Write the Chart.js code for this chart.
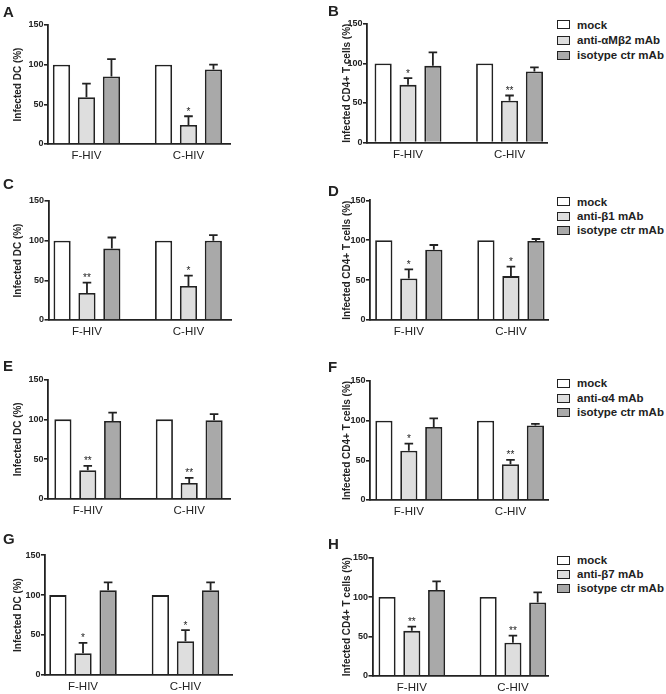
<!DOCTYPE html>
<html lang="en">
<head>
<meta charset="UTF-8">
<title>Integrin blocking - infected DC and CD4+ T cells</title>
<script src="https://cdn.jsdelivr.net/npm/chart.js"></script>
<style>
    body {
        margin: 0;
        background: #ffffff;
        font-family: 'Liberation Sans', Arial, sans-serif;
        color: #222;
    }
    #figure {
        position: relative;
        width: 666px;
        height: 694px;
        overflow: hidden;
    }
    canvas { position: absolute; }
    .panel-letter {
        position: absolute;
        font-weight: bold;
        font-size: 15px;
        line-height: 15px;
    }
    .legend-row {
        position: absolute;
        left: 557px;
        height: 14px;
        display: flex;
        align-items: center;
        font-weight: bold;
        font-size: 11.5px;
        white-space: nowrap;
    }
    .legend-box {
        width: 11px;
        height: 7px;
        border: 1.6px solid #222;
        margin-right: 7px;
    }
</style>
</head>
<body>
<div id="figure"></div>

<script>
    // categories and axis ticks shared by all panels
    const groups = ['F-HIV', 'C-HIV'];
    const yTicks = [0, 50, 100, 150];
    const mockValues = [100, 100];
    const mockErr = [0, 0];

    const dcTitle = 'Infected DC (%)';
    const cd4Title = 'Infected CD4+ T cells (%)';

    // A / B : anti-aMb2
    const antiA = [59, 24], antiErrA = [17, 11], isoA = [85, 94], isoErrA = [22, 6], starsA = ['', '*'];
    const antiB = [73, 53], antiErrB = [8.5, 6.5], isoB = [97, 90], isoErrB = [17, 5], starsB = ['*', '**'];
    // C / D : anti-b1
    const antiC = [34, 43], antiErrC = [13, 13], isoC = [90, 100], isoErrC = [14, 7], starsC = ['**', '*'];
    const antiD = [52, 55], antiErrD = [11.5, 12], isoD = [88, 99], isoErrD = [6, 2.5], starsD = ['*', '*'];
    // E / F : anti-a4
    const antiE = [36, 20], antiErrE = [5.5, 6.5], isoE = [98, 99], isoErrE = [10.5, 7.5], starsE = ['**', '**'];
    const antiF = [62, 45], antiErrF = [9, 5.5], isoF = [92, 94], isoErrF = [11, 2], starsF = ['*', '**'];
    // G / H : anti-b7
    const antiG = [27, 42], antiErrG = [13, 14], isoG = [106, 106], isoErrG = [10, 10], starsG = ['*', '*'];
    const antiH = [57, 42], antiErrH = [5.5, 9], isoH = [109, 93], isoErrH = [11, 13], starsH = ['**', '**'];

    const legendB = ['mock', 'anti-\u03b1M\u03b22 mAb', 'isotype ctr mAb'];
    const legendD = ['mock', 'anti-\u03b21 mAb', 'isotype ctr mAb'];
    const legendF = ['mock', 'anti-\u03b14 mAb', 'isotype ctr mAb'];
    const legendH = ['mock', 'anti-\u03b27 mAb', 'isotype ctr mAb'];

    const barColors = ['#ffffff', '#dedede', '#a9a9a9'];

    // plot-area placement of each panel on the page
    const geometry = {
        A: { left: 48,    right: 230, top: 25,    bottom: 144,   xMin: 0.623, xMax: 2.407, titleX: 18.5,  letter: [3, 4] },
        B: { left: 367,   right: 547, top: 24,    bottom: 142.5, xMin: 0.596, xMax: 2.369, titleX: 347.3, letter: [328, 3], legendY: [24.5, 40, 55] },
        C: { left: 48.5,  right: 231, top: 201,   bottom: 320,   xMin: 0.621, xMax: 2.419, titleX: 18.5,  letter: [3, 176] },
        D: { left: 370,   right: 548, top: 200.3, bottom: 320,   xMin: 0.620, xMax: 2.363, titleX: 347.3, letter: [328, 183], legendY: [201.5, 216, 230] },
        E: { left: 48,    right: 230, top: 379.5, bottom: 499,   xMin: 0.608, xMax: 2.402, titleX: 18.5,  letter: [3, 358] },
        F: { left: 370,   right: 548, top: 381,   bottom: 500,   xMin: 0.618, xMax: 2.369, titleX: 347.3, letter: [328, 359], legendY: [383.3, 398.3, 412.3] },
        G: { left: 45,    right: 232, top: 555.3, bottom: 674.7, xMin: 0.629, xMax: 2.454, titleX: 18.5,  letter: [3, 531] },
        H: { left: 372.5, right: 548, top: 557.7, bottom: 675.7, xMin: 0.611, xMax: 2.347, titleX: 347.3, letter: [328, 536], legendY: [560, 574.3, 588.3] }
    };

    const panels = [
        { id: 'A', title: dcTitle,  anti: antiA, antiErr: antiErrA, iso: isoA, isoErr: isoErrA, stars: starsA },
        { id: 'B', title: cd4Title, anti: antiB, antiErr: antiErrB, iso: isoB, isoErr: isoErrB, stars: starsB, legend: legendB },
        { id: 'C', title: dcTitle,  anti: antiC, antiErr: antiErrC, iso: isoC, isoErr: isoErrC, stars: starsC },
        { id: 'D', title: cd4Title, anti: antiD, antiErr: antiErrD, iso: isoD, isoErr: isoErrD, stars: starsD, legend: legendD },
        { id: 'E', title: dcTitle,  anti: antiE, antiErr: antiErrE, iso: isoE, isoErr: isoErrE, stars: starsE },
        { id: 'F', title: cd4Title, anti: antiF, antiErr: antiErrF, iso: isoF, isoErr: isoErrF, stars: starsF, legend: legendF },
        { id: 'G', title: dcTitle,  anti: antiG, antiErr: antiErrG, iso: isoG, isoErr: isoErrG, stars: starsG },
        { id: 'H', title: cd4Title, anti: antiH, antiErr: antiErrH, iso: isoH, isoErr: isoErrH, stars: starsH, legend: legendH }
    ];

    Chart.defaults.font.family = "'Liberation Sans', Arial, sans-serif";
    Chart.defaults.color = '#222';

    // SEM bars (upper half only) and significance stars
    const errorBars = {
        id: 'errorBars',
        afterDatasetsDraw(chart) {
            const ctx = chart.ctx;
            const yScale = chart.scales.y;
            chart.data.datasets.forEach((ds, di) => {
                const meta = chart.getDatasetMeta(di);
                meta.data.forEach((bar, i) => {
                    const err = ds.errors ? ds.errors[i] : 0;
                    const top = yScale.getPixelForValue(ds.data[i].y + err);
                    ctx.save();
                    if (err > 0) {
                        const cap = bar.width * 0.25;
                        ctx.strokeStyle = '#222';
                        ctx.lineWidth = 1.8;
                        ctx.beginPath();
                        ctx.moveTo(bar.x, bar.y);
                        ctx.lineTo(bar.x, top);
                        ctx.moveTo(bar.x - cap, top);
                        ctx.lineTo(bar.x + cap, top);
                        ctx.stroke();
                    }
                    const star = ds.stars ? ds.stars[i] : '';
                    if (star) {
                        ctx.fillStyle = '#222';
                        ctx.font = "10px 'Liberation Sans', Arial, sans-serif";
                        ctx.textAlign = 'center';
                        ctx.textBaseline = 'alphabetic';
                        ctx.fillText(star, bar.x, top - 1.5);
                    }
                    ctx.restore();
                });
            });
        }
    };

    const toPoints = vals => vals.map((v, i) => ({ x: i + 1, y: v }));

    const figure = document.getElementById('figure');

    panels.forEach(p => {
        const g = geometry[p.id];
        const canvasLeft = Math.floor(g.left) - 44;
        const canvasTop = Math.floor(g.top) - 10;
        const width = Math.ceil(g.right) + 4 - canvasLeft;
        const height = Math.ceil(g.bottom) + 24 - canvasTop;
        const yWidth = g.left - canvasLeft;
        const xHeight = canvasTop + height - g.bottom;

        const canvas = document.createElement('canvas');
        canvas.width = width;
        canvas.height = height;
        canvas.style.left = canvasLeft + 'px';
        canvas.style.top = canvasTop + 'px';
        canvas.style.width = width + 'px';
        canvas.style.height = height + 'px';
        figure.appendChild(canvas);

        const letter = document.createElement('div');
        letter.className = 'panel-letter';
        letter.textContent = p.id;
        letter.style.left = g.letter[0] + 'px';
        letter.style.top = g.letter[1] + 'px';
        figure.appendChild(letter);

        if (p.legend) {
            p.legend.forEach((txt, k) => {
                const row = document.createElement('div');
                row.className = 'legend-row';
                row.style.top = (g.legendY[k] - 7) + 'px';
                row.innerHTML = '<span class="legend-box" style="background:' + barColors[k] + '"></span><span></span>';
                row.lastChild.textContent = txt;
                figure.appendChild(row);
            });
        }

        const common = {
            borderColor: '#222',
            borderWidth: 1.8,
            categoryPercentage: 0.735,
            barPercentage: 0.69
        };

        new Chart(canvas, {
            type: 'bar',
            data: {
                datasets: [
                    Object.assign({ label: 'mock', data: toPoints(mockValues), backgroundColor: barColors[0], errors: mockErr }, common),
                    Object.assign({ label: 'antibody', data: toPoints(p.anti), backgroundColor: barColors[1], errors: p.antiErr, stars: p.stars }, common),
                    Object.assign({ label: 'isotype ctr mAb', data: toPoints(p.iso), backgroundColor: barColors[2], errors: p.isoErr }, common)
                ]
            },
            options: {
                responsive: false,
                animation: false,
                layout: { padding: { left: 0, top: g.top - canvasTop, right: canvasLeft + width - g.right, bottom: 0 } },
                plugins: { legend: { display: false }, tooltip: { enabled: false } },
                scales: {
                    x: {
                        type: 'linear',
                        min: g.xMin,
                        max: g.xMax,
                        offset: false,
                        afterBuildTicks: s => { s.ticks = groups.map((_, i) => ({ value: i + 1 })); },
                        afterFit: s => { s.height = xHeight; },
                        grid: { display: true, drawOnChartArea: false, drawTicks: false, offset: false },
                        border: { display: true, color: '#222', width: 1.8 },
                        ticks: {
                            padding: 5,
                            font: { size: 11.5 },
                            maxRotation: 0,
                            autoSkip: false,
                            callback: v => groups[v - 1]
                        }
                    },
                    y: {
                        min: 0,
                        max: 150,
                        afterBuildTicks: s => { s.ticks = yTicks.map(v => ({ value: v })); },
                        afterFit: s => { s.width = yWidth; },
                        grid: { drawOnChartArea: false, drawTicks: true, tickLength: 4, color: '#222', lineWidth: 1.6 },
                        border: { display: true, color: '#222', width: 1.8 },
                        ticks: { padding: 0.5, font: { size: 9, weight: 'bold' } },
                        title: {
                            display: true,
                            text: p.title,
                            font: { size: 10, weight: 'bold' },
                            padding: { top: g.titleX - canvasLeft - 6, bottom: 0 }
                        }
                    }
                }
            },
            plugins: [errorBars]
        });
    });
</script>
</body>
</html>
